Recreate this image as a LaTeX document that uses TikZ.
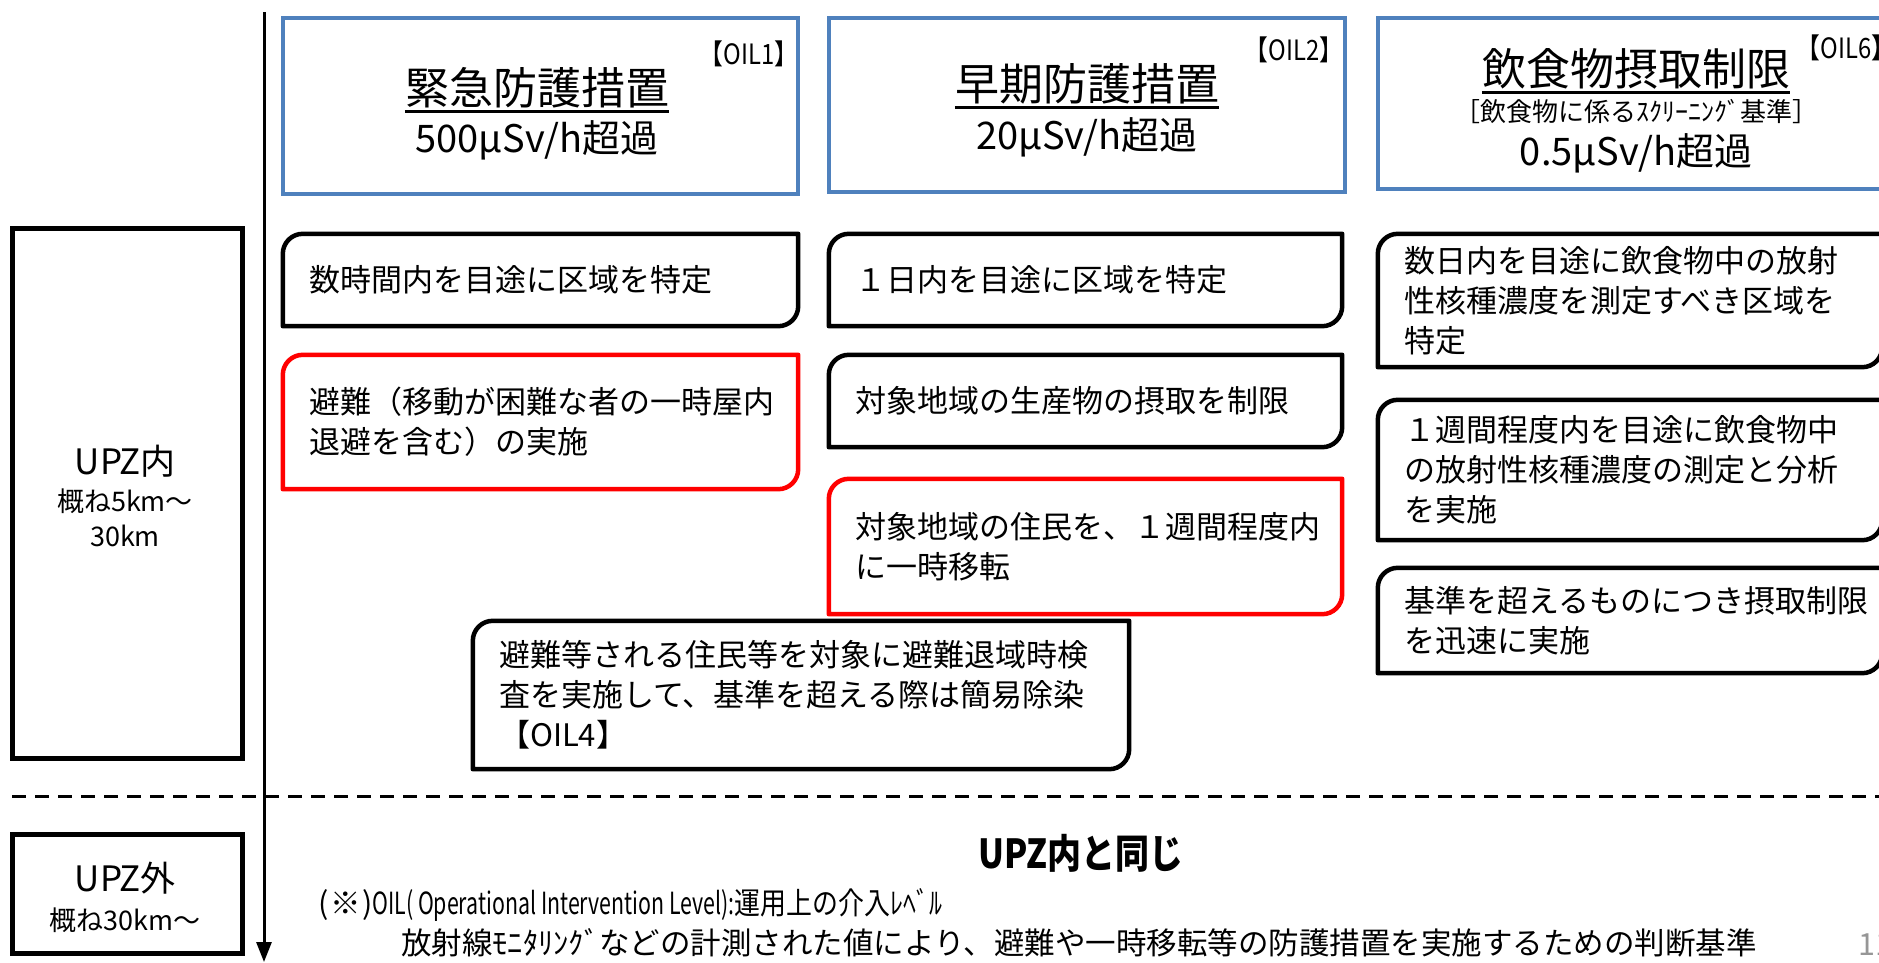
\documentclass[tikz,border=0pt]{standalone}
\usepackage{fontspec}
\setmainfont{Noto Sans CJK JP}
\newfontfamily\jpcond[FakeStretch=0.85]{Noto Sans CJK JP}
\newfontfamily\latcond[FakeStretch=0.70]{Noto Sans CJK JP}
\usetikzlibrary{arrows.meta}
\definecolor{boxblue}{RGB}{79,129,189}
\definecolor{alertred}{RGB}{255,0,0}
\definecolor{pagegray}{RGB}{150,150,150}

\tikzset{
  dboxnode/.style={draw=none, inner sep=0pt, shape=rectangle},
  dboxline/.style={line width=4.5pt, line join=round},
  bodytext/.style={anchor=west, align=left, inner sep=0pt, font=\fontsize{31}{40}\selectfont},
  hdrbox/.style={draw=boxblue, line width=4.5pt, inner sep=0pt},
  titletext/.style={inner sep=0pt, font=\fontsize{44}{50}\selectfont},
  valuetext/.style={inner sep=0pt, font=\fontsize{38}{42}\selectfont},
  oiltext/.style={inner sep=0pt, font=\jpcond\fontsize{28}{30}\selectfont},
  subtext/.style={inner sep=0pt, font=\fontsize{26}{28}\selectfont},
  uline/.style={line width=3pt},
  sidebox/.style={draw=black, line width=5pt, inner sep=0pt},
  sidebig/.style={inner sep=0pt, font=\fontsize{35}{38}\selectfont},
  sidesmall/.style={inner sep=0pt, font=\fontsize{27}{30}\selectfont},
  axisline/.style={line width=3pt, -{Triangle[length=20pt,width=15pt]}},
  sepline/.style={line width=3pt, dash pattern=on 14pt off 9pt},
  sametext/.style={inner sep=0pt, font=\jpcond\bfseries\fontsize{40}{44}\selectfont},
  notetext/.style={inner sep=0pt, anchor=west, font=\fontsize{30.5}{34}\selectfont},
}

% name, colour, x1, y1, x2, y2, text
\newcommand{\dbox}[7]{%
  \node[dboxnode, minimum width={#5-#3}, minimum height={#6-#4}] (#1) at ({(#3+#5)/2},{(#4+#6)/2}) {};
  \draw[dboxline, draw=#2] ([yshift=-20pt]#1.north west) -- (#1.south west)
     -- ([xshift=-20pt]#1.south east) arc[start angle=-90,end angle=0,radius=20pt]
     -- (#1.north east) -- ([xshift=20pt]#1.north west)
     arc[start angle=90,end angle=180,radius=20pt] -- cycle;
  \node[bodytext] (#1t) at ([xshift=26pt]#1.west) {#7};
}

\begin{document}
\begin{tikzpicture}[x=1pt,y=-1pt]
\path[use as bounding box, clip] (0,0) rectangle (1879,962);
\fill[white] (0,0) rectangle (1879,962);

% vertical axis
\coordinate (axtop) at (264,12);
\coordinate (axbot) at (264,962);
\draw[axisline] (axtop) -- (axbot);

% separator
\coordinate (sepl) at (12,796);
\coordinate (sepr) at (1885,796);
\draw[sepline] (sepl) -- (sepr);

% header boxes
\node[hdrbox, minimum width=515, minimum height=176] (h1) at (540.5,106) {};
\node[hdrbox, minimum width=516, minimum height=174] (h2) at (1087,105) {};
\node[hdrbox, minimum width=512, minimum height=171] (h3) at (1634,103.5) {};

\node[titletext] (t1) at (537,88) {緊急防護措置};
\draw[uline] ([yshift=-7pt]t1.base west) -- ([yshift=-7pt]t1.base east);
\node[valuetext] (v1) at (537,140) {500μSv/h超過};
\node[oiltext] (o1) at (749,54) {【OIL1】};

\node[titletext] (t2) at (1087,84) {早期防護措置};
\draw[uline] ([yshift=-7pt]t2.base west) -- ([yshift=-7pt]t2.base east);
\node[valuetext] (v2) at (1087,137) {20μSv/h超過};
\node[oiltext] (o2) at (1294,50) {【OIL2】};

\node[titletext] (t3) at (1636,69) {飲食物摂取制限};
\draw[uline] ([yshift=-7pt]t3.base west) -- ([yshift=-7pt]t3.base east);
\node[subtext] (s3) at (1636,112) {［飲食物に係るｽｸﾘｰﾆﾝｸﾞ基準］};
\node[valuetext] (v3) at (1636,153) {0.5μSv/h超過};
\node[oiltext] (o3) at (1846,48) {【OIL6】};

% side boxes
\node[sidebox, minimum width=230, minimum height=530] (inbox) at (127,493) {};
\node[sidebig] (inl1) at (125,461) {UPZ内};
\node[sidesmall] (inl2) at (125,501) {概ね5km～};
\node[sidesmall] (inl3) at (125,536) {30km};

\node[sidebox, minimum width=230, minimum height=119] (outbox) at (127,893.5) {};
\node[sidebig] (outl1) at (125,878) {UPZ外};
\node[sidesmall] (outl2) at (125,920) {概ね30km～};

% measure boxes
\dbox{a1}{black}{283}{234}{798}{326}{数時間内を目途に区域を特定}
\dbox{a2}{alertred}{283}{355}{798}{489}{避難（移動が困難な者の一時屋内\\退避を含む）の実施}
\dbox{b1}{black}{829}{234}{1342}{326}{１日内を目途に区域を特定}
\dbox{b2}{black}{829}{355}{1342}{447}{対象地域の生産物の摂取を制限}
\dbox{b3}{alertred}{829}{479}{1342}{614}{対象地域の住民を、１週間程度内\\に一時移転}
\dbox{c1}{black}{1378}{234}{1882}{367}{数日内を目途に飲食物中の放射\\性核種濃度を測定すべき区域を\\特定}
\dbox{c2}{black}{1378}{400}{1882}{540}{１週間程度内を目途に飲食物中\\の放射性核種濃度の測定と分析\\を実施}
\dbox{c3}{black}{1378}{568}{1882}{673}{基準を超えるものにつき摂取制限\\を迅速に実施}
\dbox{d1}{black}{473}{621}{1129}{769}{\fontsize{31}{43.5}\selectfont 避難等される住民等を対象に避難退域時検\\査を実施して、基準を超える際は簡易除染\\【OIL4】}

% bottom
\node[sametext] (same) at (1081,853) {UPZ内と同じ};
\node[notetext] (note1) at (318,905) {(\hspace{1.5pt}※\hspace{1.5pt}){\latcond OIL( Operational Intervention Level):}{\jpcond 運用上の介入ﾚﾍﾞﾙ}};
\node[notetext] (note2) at (401,943) {放射線ﾓﾆﾀﾘﾝｸﾞなどの計測された値により、避難や一時移転等の防護措置を実施するための判断基準};
\node[notetext, text=pagegray] (pg) at (1858,945) {11};
\end{tikzpicture}
\end{document}
